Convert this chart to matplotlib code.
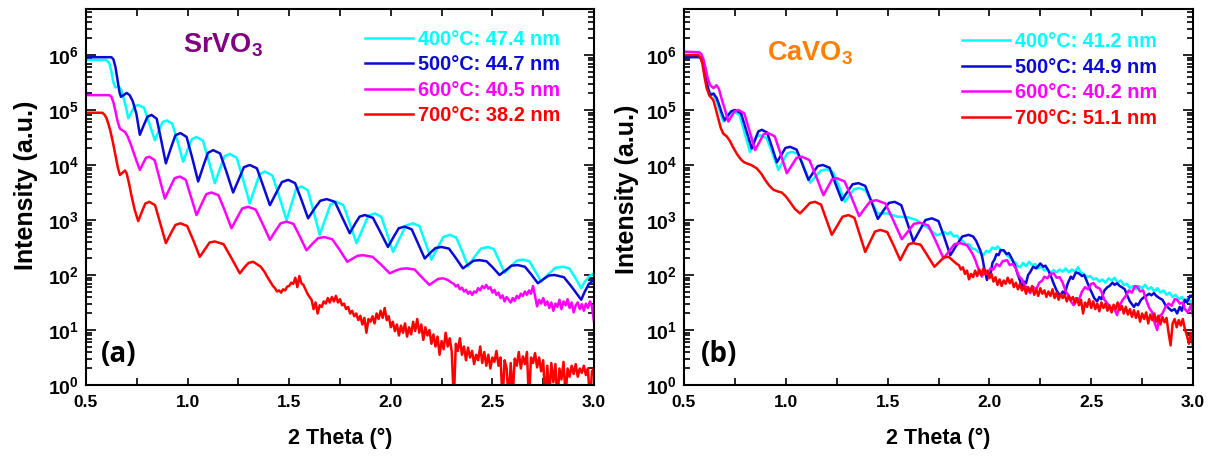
import numpy as np
import matplotlib.pyplot as plt
from matplotlib.ticker import MultipleLocator, LogLocator, FixedLocator, FixedFormatter, NullFormatter

# XRR curves: (2 theta in deg, log10 intensity)
srvo3_400 = [(0.50, 5.91), (0.60, 5.91), (0.615, 5.85), (0.625, 5.70), (0.635, 5.50), (0.645, 5.41),
             (0.659, 5.43), (0.672, 5.38), (0.685, 5.22), (0.697, 5.05), (0.708, 4.85),
             (0.725, 4.97), (0.740, 5.07), (0.757, 5.09), (0.786, 5.04), (0.810, 4.77), (0.839, 4.45),
             (0.859, 4.63), (0.877, 4.78), (0.897, 4.81), (0.925, 4.75), (0.950, 4.44), (0.978, 4.06),
             (1.001, 4.29), (1.021, 4.47), (1.044, 4.51), (1.076, 4.44), (1.103, 4.09), (1.134, 3.67),
             (1.160, 3.94), (1.182, 4.16), (1.208, 4.20), (1.242, 4.13), (1.272, 3.75), (1.306, 3.30),
             (1.332, 3.59), (1.354, 3.83), (1.380, 3.88), (1.417, 3.81), (1.450, 3.44), (1.487, 3.00),
             (1.513, 3.31), (1.534, 3.56), (1.560, 3.61), (1.592, 3.54), (1.619, 3.17), (1.650, 2.73),
             (1.679, 3.03), (1.703, 3.28), (1.732, 3.33), (1.767, 3.27), (1.796, 2.96), (1.831, 2.58),
             (1.863, 2.85), (1.890, 3.08), (1.921, 3.12), (1.953, 3.06), (1.980, 2.77), (2.011, 2.42),
             (2.045, 2.68), (2.075, 2.90), (2.109, 2.94), (2.141, 2.89), (2.168, 2.61), (2.200, 2.28),
             (2.232, 2.51), (2.259, 2.69), (2.290, 2.73), (2.322, 2.68), (2.349, 2.45), (2.380, 2.16),
             (2.414, 2.34), (2.444, 2.48), (2.478, 2.51), (2.507, 2.47), (2.531, 2.28), (2.560, 2.04),
             (2.592, 2.16), (2.619, 2.26), (2.650, 2.28), (2.682, 2.25), (2.709, 2.08), (2.740, 1.88),
             (2.777, 2.02), (2.810, 2.13), (2.847, 2.15), (2.879, 2.12), (2.906, 1.96), (2.937, 1.76),
             (2.955, 1.88), (2.975, 1.97), (3.000, 2.03)]

srvo3_500 = [(0.50, 5.96), (0.625, 5.96), (0.635, 5.92), (0.645, 5.78), (0.655, 5.55), (0.665, 5.32),
             (0.672, 5.24), (0.685, 5.27), (0.700, 5.31), (0.715, 5.27), (0.730, 5.16), (0.748, 4.93),
             (0.765, 4.55), (0.785, 4.73), (0.803, 4.88), (0.823, 4.91), (0.848, 4.84), (0.869, 4.47),
             (0.893, 4.03), (0.918, 4.31), (0.940, 4.54), (0.965, 4.58), (0.995, 4.51), (1.022, 4.14),
             (1.052, 3.70), (1.078, 3.99), (1.100, 4.22), (1.126, 4.27), (1.160, 4.21), (1.190, 3.89),
             (1.224, 3.50), (1.253, 3.75), (1.277, 3.96), (1.306, 4.00), (1.341, 3.94), (1.370, 3.64),
             (1.405, 3.27), (1.437, 3.50), (1.464, 3.69), (1.495, 3.73), (1.529, 3.67), (1.559, 3.38),
             (1.593, 3.03), (1.625, 3.21), (1.653, 3.35), (1.685, 3.38), (1.725, 3.33), (1.758, 3.07),
             (1.798, 2.76), (1.824, 2.93), (1.846, 3.06), (1.872, 3.09), (1.912, 3.04), (1.946, 2.80),
             (1.986, 2.51), (2.015, 2.70), (2.039, 2.85), (2.068, 2.88), (2.103, 2.83), (2.132, 2.59),
             (2.167, 2.30), (2.196, 2.41), (2.220, 2.49), (2.249, 2.51), (2.286, 2.48), (2.318, 2.32),
             (2.355, 2.12), (2.384, 2.20), (2.408, 2.26), (2.437, 2.27), (2.471, 2.25), (2.501, 2.14),
             (2.535, 2.00), (2.567, 2.09), (2.594, 2.17), (2.625, 2.18), (2.660, 2.15), (2.689, 2.02),
             (2.724, 1.85), (2.753, 1.93), (2.777, 1.99), (2.806, 2.00), (2.852, 1.96), (2.891, 1.78),
             (2.937, 1.55), (2.955, 1.70), (2.975, 1.84), (3.000, 1.91)]

srvo3_600 = [(0.50, 5.27), (0.615, 5.27), (0.625, 5.24), (0.635, 5.14), (0.645, 4.98), (0.655, 4.80),
             (0.667, 4.66), (0.680, 4.63), (0.692, 4.60), (0.705, 4.52), (0.720, 4.38), (0.735, 4.22),
             (0.750, 4.06), (0.765, 3.91), (0.781, 4.03), (0.795, 4.13), (0.811, 4.15), (0.838, 4.09),
             (0.861, 3.77), (0.888, 3.39), (0.914, 3.59), (0.936, 3.76), (0.962, 3.79), (0.991, 3.73),
             (1.015, 3.44), (1.044, 3.09), (1.070, 3.30), (1.092, 3.47), (1.118, 3.50), (1.152, 3.45),
             (1.182, 3.18), (1.216, 2.85), (1.245, 3.05), (1.269, 3.21), (1.298, 3.24), (1.335, 3.19),
             (1.368, 2.94), (1.405, 2.64), (1.434, 2.81), (1.458, 2.94), (1.487, 2.97), (1.521, 2.93),
             (1.551, 2.71), (1.585, 2.45), (1.615, 2.57), (1.642, 2.67), (1.672, 2.69), (1.712, 2.65),
             (1.746, 2.47), (1.786, 2.24), (1.813, 2.30), (1.837, 2.35), (1.864, 2.36), (1.910, 2.33),
             (1.949, 2.20), (1.995, 2.03), (2.024, 2.08), (2.048, 2.11), (2.077, 2.12), (2.117, 2.10),
             (2.150, 1.97), (2.190, 1.82), (2.213, 1.88), (2.234, 1.93), (2.257, 1.94), (2.280, 1.91),
             (2.300, 1.86)]
# noisy high-angle part, 0.01 deg steps from 2.31
srvo3_600_tail = [1.84, 1.79, 1.82, 1.74, 1.77, 1.70, 1.73, 1.66, 1.70, 1.64,
                  1.70, 1.68, 1.76, 1.72, 1.80, 1.76, 1.82, 1.75, 1.78, 1.68,
                  1.73, 1.64, 1.68, 1.58, 1.63, 1.52, 1.60, 1.55, 1.50, 1.58,
                  1.53, 1.62, 1.58, 1.66, 1.62, 1.70, 1.64, 1.72, 1.66, 1.80,
                  1.62, 1.43, 1.55, 1.48, 1.58, 1.45, 1.52, 1.40, 1.50, 1.35,
                  1.48, 1.42, 1.55, 1.38, 1.52, 1.45, 1.56, 1.40, 1.50, 1.32,
                  1.45, 1.50, 1.38, 1.47, 1.35, 1.48, 1.40, 1.52, 1.42, 1.15]

srvo3_700 = [(0.50, 4.95), (0.58, 4.95), (0.59, 4.92), (0.60, 4.86), (0.61, 4.75), (0.62, 4.62),
             (0.632, 4.42), (0.645, 4.18), (0.657, 3.95), (0.667, 3.82), (0.680, 3.86), (0.692, 3.90),
             (0.700, 3.85), (0.712, 3.66), (0.725, 3.42), (0.740, 3.18), (0.757, 2.98), (0.776, 3.16),
             (0.792, 3.30), (0.811, 3.33), (0.840, 3.27), (0.864, 2.96), (0.893, 2.58), (0.918, 2.76),
             (0.940, 2.91), (0.965, 2.94), (0.998, 2.89), (1.027, 2.64), (1.060, 2.33), (1.086, 2.47),
             (1.108, 2.59), (1.134, 2.61), (1.177, 2.56), (1.214, 2.32), (1.257, 2.03), (1.280, 2.14),
             (1.300, 2.22), (1.323, 2.24), (1.340, 2.20), (1.360, 2.15)]
# noisy part, 0.01 deg steps from 1.38
srvo3_700_tail = [2.05, 1.98, 1.92, 1.86, 1.80, 1.76, 1.70, 1.72, 1.68, 1.74,
                  1.72, 1.79, 1.80, 1.86, 1.84, 1.95, 1.78, 1.98, 1.85, 1.82,
                  1.74, 1.66, 1.60, 1.55, 1.38, 1.50, 1.30, 1.45, 1.42, 1.52,
                  1.48, 1.58, 1.50, 1.60, 1.52, 1.62, 1.50, 1.56, 1.45, 1.48,
                  1.38, 1.42, 1.30, 1.35, 1.25, 1.30, 1.18, 1.26, 1.10, 1.22,
                  0.95, 1.20, 1.15, 1.25, 1.12, 1.30, 1.20, 1.35, 1.22, 1.40,
                  1.18, 1.25, 1.05, 1.15, 0.98, 1.10, 0.90, 1.08, 0.95, 1.12,
                  0.88, 1.05, 0.92, 1.15, 0.98, 1.20, 0.95, 1.10, 0.82, 1.05,
                  0.90, 1.00, 0.75, 0.92, 0.70, 0.88, 0.55, 0.80, 0.65, 0.95,
                  0.70, 0.85, 0.60, -0.30, 0.75, 0.62, 0.85, 0.55, 0.70, 0.45,
                  0.68, 0.50, 0.62, 0.38, 0.55, 0.45, 0.70, 0.40, 0.60, 0.35,
                  0.55, 0.30, 0.50, 0.42, 0.62, 0.35, 0.50, -0.30, 0.45, 0.30,
                  -0.30, 0.40, -0.20, 0.48, 0.35, 0.60, 0.30, 0.52, 0.38, 0.60,
                  -0.30, 0.50, 0.40, 0.58, 0.32, 0.50, 0.25, 0.45, -0.30, 0.35,
                  -0.20, 0.40, 0.05, 0.38, -0.30, 0.30, 0.10, 0.42, -0.20, 0.30,
                  0.15, 0.35, 0.20, 0.38, 0.15, 0.30, 0.22, 0.35, 0.18, 0.30,
                  -0.30, 0.25, 0.30]

cavo3_400 = [(0.50, 5.97), (0.575, 5.97), (0.585, 5.93), (0.595, 5.82), (0.605, 5.62), (0.615, 5.44),
             (0.625, 5.33), (0.635, 5.29), (0.645, 5.27), (0.655, 5.20), (0.665, 5.10), (0.678, 4.95),
             (0.693, 4.79), (0.711, 4.88), (0.727, 4.96), (0.745, 4.97), (0.773, 4.91), (0.796, 4.61),
             (0.824, 4.24), (0.842, 4.39), (0.857, 4.52), (0.875, 4.54), (0.906, 4.49), (0.933, 4.23),
             (0.964, 3.91), (0.987, 4.08), (1.007, 4.21), (1.030, 4.24), (1.062, 4.20), (1.089, 3.96),
             (1.120, 3.68), (1.148, 3.80), (1.172, 3.90), (1.200, 3.92), (1.232, 3.87), (1.259, 3.63),
             (1.290, 3.33), (1.315, 3.46), (1.336, 3.56), (1.360, 3.58), (1.392, 3.54), (1.419, 3.35),
             (1.450, 3.12), (1.500, 3.12), (1.550, 3.06), (1.600, 3.05), (1.640, 3.00), (1.700, 2.85),
             (1.742, 2.72), (1.780, 2.78), (1.795, 2.74), (1.808, 2.78), (1.825, 2.70), (1.840, 2.72),
             (1.855, 2.64), (1.870, 2.62), (1.885, 2.55), (1.900, 2.56), (1.915, 2.48), (1.930, 2.47),
             (1.945, 2.42), (1.960, 2.40), (1.970, 2.36), (1.985, 2.44), (2.000, 2.42), (2.015, 2.50),
             (2.030, 2.47), (2.040, 2.52), (2.055, 2.46), (2.070, 2.44), (2.085, 2.36), (2.100, 2.32),
             (2.115, 2.25), (2.130, 2.22), (2.140, 2.16), (2.152, 2.14), (2.165, 2.22), (2.180, 2.16),
             (2.195, 2.24), (2.210, 2.18), (2.225, 2.20), (2.240, 2.12), (2.255, 2.15), (2.270, 2.08),
             (2.285, 2.10), (2.300, 2.04), (2.315, 2.09), (2.330, 2.05), (2.345, 2.10), (2.360, 2.06),
             (2.375, 2.12), (2.390, 2.05), (2.405, 2.10), (2.420, 2.06), (2.435, 2.14), (2.450, 2.04),
             (2.465, 2.02), (2.480, 1.96), (2.495, 1.98), (2.510, 1.92), (2.525, 1.94), (2.540, 1.88),
             (2.555, 1.92), (2.570, 1.86), (2.585, 1.94), (2.600, 1.90), (2.615, 1.95), (2.630, 1.86),
             (2.645, 1.90), (2.660, 1.82), (2.675, 1.84), (2.690, 1.76), (2.705, 1.80), (2.720, 1.74),
             (2.735, 1.80), (2.750, 1.76), (2.765, 1.82), (2.780, 1.74), (2.795, 1.78), (2.810, 1.70),
             (2.825, 1.76), (2.840, 1.68), (2.855, 1.72), (2.870, 1.64), (2.885, 1.68), (2.900, 1.60),
             (2.915, 1.64), (2.930, 1.56), (2.945, 1.60), (2.960, 1.52), (2.975, 1.58), (2.990, 1.50),
             (3.000, 1.56)]

cavo3_500 = [(0.50, 5.96), (0.575, 5.96), (0.585, 5.93), (0.595, 5.82), (0.605, 5.62), (0.615, 5.44),
             (0.628, 5.27), (0.645, 5.30), (0.660, 5.22), (0.672, 5.10), (0.685, 4.95), (0.700, 4.81),
             (0.718, 4.91), (0.733, 4.98), (0.751, 5.00), (0.780, 4.94), (0.804, 4.65), (0.833, 4.30),
             (0.850, 4.47), (0.865, 4.61), (0.882, 4.64), (0.908, 4.59), (0.930, 4.35), (0.956, 4.05),
             (0.979, 4.19), (0.998, 4.31), (1.021, 4.33), (1.053, 4.28), (1.080, 4.03), (1.111, 3.73),
             (1.136, 3.87), (1.157, 3.98), (1.182, 4.00), (1.215, 3.95), (1.242, 3.68), (1.275, 3.36),
             (1.304, 3.52), (1.328, 3.65), (1.357, 3.67), (1.390, 3.62), (1.419, 3.35), (1.452, 3.02),
             (1.481, 3.18), (1.506, 3.31), (1.535, 3.33), (1.567, 3.27), (1.595, 2.97), (1.627, 2.61),
             (1.659, 2.82), (1.686, 3.00), (1.718, 3.03), (1.750, 2.98), (1.777, 2.70), (1.808, 2.36),
             (1.840, 2.55), (1.867, 2.70), (1.898, 2.73), (1.920, 2.70), (1.935, 2.62), (1.955, 2.45),
             (1.965, 2.32), (1.975, 2.12), (1.988, 1.91), (1.995, 2.05), (2.005, 2.00), (2.015, 2.22),
             (2.025, 2.28), (2.035, 2.38), (2.045, 2.36), (2.055, 2.45), (2.070, 2.45), (2.085, 2.38),
             (2.095, 2.40), (2.110, 2.30), (2.125, 2.18), (2.140, 2.00), (2.150, 1.90), (2.160, 1.76),
             (2.170, 1.88), (2.180, 1.85), (2.190, 2.00), (2.200, 2.05), (2.215, 2.15), (2.230, 2.12),
             (2.250, 2.21), (2.265, 2.15), (2.275, 2.17), (2.290, 2.08), (2.305, 1.95), (2.315, 1.85),
             (2.330, 1.72), (2.349, 1.61), (2.360, 1.70), (2.370, 1.66), (2.385, 1.85), (2.400, 1.97),
             (2.410, 1.93), (2.425, 2.05), (2.439, 2.03), (2.455, 1.98), (2.465, 2.00), (2.475, 1.92),
             (2.490, 1.78), (2.500, 1.70), (2.515, 1.58), (2.529, 1.52), (2.540, 1.60), (2.550, 1.56),
             (2.565, 1.72), (2.580, 1.78), (2.590, 1.80), (2.605, 1.86), (2.615, 1.82), (2.627, 1.85),
             (2.640, 1.80), (2.650, 1.78), (2.665, 1.74), (2.680, 1.60), (2.690, 1.52), (2.710, 1.42),
             (2.720, 1.48), (2.730, 1.45), (2.745, 1.55), (2.760, 1.60), (2.770, 1.62), (2.785, 1.66),
             (2.795, 1.63), (2.808, 1.67), (2.820, 1.62), (2.835, 1.58), (2.850, 1.55), (2.865, 1.45),
             (2.880, 1.40), (2.895, 1.35), (2.910, 1.38), (2.922, 1.30), (2.935, 1.42), (2.945, 1.35),
             (2.960, 1.55), (2.970, 1.50), (2.985, 1.62), (3.000, 1.63)]

cavo3_600 = [(0.50, 6.06), (0.575, 6.05), (0.585, 6.02), (0.595, 5.93), (0.605, 5.78), (0.615, 5.60),
             (0.628, 5.45), (0.645, 5.40), (0.660, 5.45), (0.672, 5.38), (0.685, 5.20), (0.700, 5.02),
             (0.718, 4.79), (0.735, 4.90), (0.750, 4.98), (0.767, 5.00), (0.796, 4.94), (0.820, 4.64),
             (0.849, 4.27), (0.872, 4.43), (0.891, 4.56), (0.914, 4.58), (0.946, 4.52), (0.973, 4.22),
             (1.005, 3.85), (1.031, 4.00), (1.053, 4.13), (1.079, 4.15), (1.116, 4.09), (1.148, 3.80),
             (1.185, 3.45), (1.208, 3.61), (1.227, 3.74), (1.250, 3.76), (1.289, 3.70), (1.322, 3.42),
             (1.360, 3.07), (1.390, 3.22), (1.415, 3.34), (1.445, 3.36), (1.489, 3.30), (1.526, 3.01),
             (1.570, 2.65), (1.602, 2.80), (1.629, 2.93), (1.660, 2.95), (1.700, 2.90), (1.735, 2.63),
             (1.775, 2.30), (1.804, 2.44), (1.828, 2.56), (1.857, 2.58), (1.890, 2.54), (1.915, 2.40),
             (1.930, 2.28), (1.945, 2.12), (1.963, 1.97), (1.975, 2.06), (1.990, 2.02), (2.005, 2.12),
             (2.020, 2.10), (2.035, 2.20), (2.050, 2.16), (2.065, 2.25), (2.087, 2.27), (2.100, 2.18),
             (2.115, 2.20), (2.130, 2.12), (2.145, 1.98), (2.160, 1.92), (2.175, 1.80), (2.190, 1.74),
             (2.200, 1.67), (2.215, 1.78), (2.230, 1.74), (2.245, 1.86), (2.260, 1.90), (2.270, 1.97),
             (2.285, 1.94), (2.300, 2.02), (2.316, 2.03), (2.330, 1.95), (2.345, 1.96), (2.360, 1.86),
             (2.375, 1.70), (2.390, 1.62), (2.400, 1.52), (2.414, 1.45), (2.425, 1.58), (2.440, 1.55),
             (2.455, 1.70), (2.470, 1.78), (2.485, 1.74), (2.500, 1.84), (2.512, 1.85), (2.525, 1.78),
             (2.540, 1.76), (2.550, 1.70), (2.565, 1.55), (2.580, 1.48), (2.595, 1.38), (2.610, 1.42),
             (2.627, 1.27), (2.640, 1.45), (2.655, 1.55), (2.670, 1.62), (2.685, 1.72), (2.700, 1.68),
             (2.715, 1.80), (2.726, 1.79), (2.740, 1.70), (2.755, 1.72), (2.770, 1.55), (2.785, 1.40),
             (2.800, 1.32), (2.810, 1.15), (2.824, 1.00), (2.835, 1.25), (2.850, 1.30), (2.865, 1.42),
             (2.880, 1.48), (2.895, 1.44), (2.910, 1.56), (2.922, 1.55), (2.935, 1.48), (2.950, 1.50),
             (2.960, 1.38), (2.975, 1.32), (2.990, 1.45), (3.000, 1.25)]

cavo3_700 = [(0.50, 6.00), (0.57, 6.00), (0.58, 5.96), (0.59, 5.85), (0.60, 5.62), (0.611, 5.40),
             (0.625, 5.26), (0.644, 5.18), (0.656, 5.02), (0.668, 4.85), (0.680, 4.68), (0.693, 4.57),
             (0.710, 4.52), (0.725, 4.44), (0.740, 4.33), (0.760, 4.20), (0.780, 4.10), (0.795, 4.05),
             (0.808, 4.03), (0.830, 4.00), (0.857, 3.94), (0.880, 3.84), (0.900, 3.72), (0.920, 3.62),
             (0.939, 3.55), (0.960, 3.52), (0.980, 3.50), (1.000, 3.43), (1.020, 3.33), (1.045, 3.20),
             (1.070, 3.12), (1.096, 3.22), (1.118, 3.31), (1.144, 3.33), (1.173, 3.28), (1.197, 3.03),
             (1.226, 2.73), (1.255, 2.91), (1.279, 3.06), (1.308, 3.09), (1.337, 3.04), (1.361, 2.76),
             (1.390, 2.42), (1.416, 2.62), (1.438, 2.79), (1.464, 2.82), (1.498, 2.78), (1.528, 2.55),
             (1.562, 2.27), (1.584, 2.43), (1.603, 2.56), (1.625, 2.58), (1.662, 2.55), (1.693, 2.37),
             (1.730, 2.15), (1.755, 2.24), (1.776, 2.32), (1.800, 2.33), (1.840, 2.20)]
# noisy part, 0.01 deg steps from 1.85
cavo3_700_tail = [2.18, 2.10, 2.14, 2.02, 2.08, 1.92, 2.02, 1.96, 2.08, 1.98,
                  2.10, 2.00, 2.12, 2.02, 2.08, 1.94, 2.02, 1.88, 1.96, 1.82,
                  1.92, 1.80, 1.90, 1.84, 1.95, 1.85, 1.92, 1.78, 1.86, 1.74,
                  1.84, 1.72, 1.80, 1.66, 1.78, 1.70, 1.80, 1.64, 1.74, 1.62,
                  1.76, 1.66, 1.72, 1.60, 1.70, 1.62, 1.74, 1.58, 1.68, 1.55,
                  1.66, 1.58, 1.64, 1.52, 1.62, 1.54, 1.60, 1.48, 1.58, 1.45,
                  1.55, 1.30, 1.50, 1.42, 1.56, 1.40, 1.52, 1.38, 1.48, 1.34,
                  1.50, 1.40, 1.48, 1.35, 1.45, 1.32, 1.46, 1.38, 1.50, 1.36,
                  1.44, 1.30, 1.42, 1.28, 1.38, 1.24, 1.36, 1.22, 1.34, 1.15,
                  1.30, 1.20, 1.32, 1.12, 1.28, 1.18, 1.30, 1.15, 1.26, 1.10,
                  1.24, 1.14, 1.22, 0.95, 0.72, 1.12, 1.20, 1.05, 1.18, 1.08,
                  1.20, 1.02, 0.90, 0.75, 0.95, 0.70]

temps = ['400°C', '500°C', '600°C', '700°C']
srvo3_thickness = [47.4, 44.7, 40.5, 38.2]
cavo3_thickness = [41.2, 44.9, 40.2, 51.1]
colors = ['#00FFFF', '#0A0AD6', '#FF00FF', '#FF0000']


def to_curve(pairs, tail=None, tail_start=None):
    x = [p[0] for p in pairs]
    logi = [p[1] for p in pairs]
    if tail is not None:
        x += list(tail_start + 0.01 * np.arange(len(tail)))
        logi += tail
    return np.array(x), 10.0 ** np.array(logi)


def style_axis(ax):
    ax.set_yscale('log')
    ax.set_xlim(0.5, 3.0)
    ax.set_ylim(1, 6.86e6)
    ax.xaxis.set_major_locator(FixedLocator([0.5, 1.0, 1.5, 2.0, 2.5, 3.0]))
    ax.xaxis.set_major_formatter(FixedFormatter(['0.5', '1.0', '1.5', '2.0', '2.5', '3.0']))
    ax.xaxis.set_minor_locator(MultipleLocator(0.25))
    ax.yaxis.set_major_locator(FixedLocator([1, 10, 100, 1e3, 1e4, 1e5, 1e6]))
    ax.yaxis.set_major_formatter(FixedFormatter([r'$\mathbf{10^{%d}}$' % i for i in range(7)]))
    ax.yaxis.set_minor_locator(LogLocator(base=10, subs=np.arange(2, 10), numticks=20))
    ax.yaxis.set_minor_formatter(NullFormatter())
    ax.tick_params(which='both', direction='in', top=True, right=True, width=1.2)
    ax.tick_params(axis='x', which='both', length=5, labelsize=12.5, pad=7)
    ax.tick_params(axis='y', which='major', length=7, labelsize=14, pad=5)
    ax.tick_params(axis='y', which='minor', length=4)
    for s in ax.spines.values():
        s.set_linewidth(1.5)
    ax.set_xlabel('2 Theta (°)', fontsize=15.5, fontweight='bold')
    ax.set_ylabel('Intensity (a.u.)', fontsize=18, fontweight='bold')
    ax.xaxis.set_label_coords(0.5, -0.115)


def main():
    plt.rcParams['font.family'] = ['Liberation Sans', 'DejaVu Sans']
    plt.rcParams['font.weight'] = 'bold'
    plt.rcParams['mathtext.fontset'] = 'custom'
    plt.rcParams['mathtext.bf'] = 'Liberation Sans:bold'
    plt.rcParams['mathtext.rm'] = 'Liberation Sans:bold'

    fig = plt.figure(figsize=(12.14, 4.58), dpi=100)
    ax_a = fig.add_axes([86 / 1214, 73 / 458, 508 / 1214, 376 / 458])
    ax_b = fig.add_axes([684 / 1214, 73 / 458, 509 / 1214, 376 / 458])

    sr_curves = [to_curve(srvo3_400), to_curve(srvo3_500),
                 to_curve(srvo3_600, srvo3_600_tail, 2.31),
                 to_curve(srvo3_700, srvo3_700_tail, 1.38)]
    ca_curves = [to_curve(cavo3_400), to_curve(cavo3_500), to_curve(cavo3_600),
                 to_curve(cavo3_700, cavo3_700_tail, 1.85)]

    for (x, y), c, t, d in zip(sr_curves, colors, temps, srvo3_thickness):
        ax_a.plot(x, y, color=c, lw=1.8, label=f'{t}: {d} nm')
    for (x, y), c, t, d in zip(ca_curves, colors, temps, cavo3_thickness):
        ax_b.plot(x, y, color=c, lw=1.8, label=f'{t}: {d} nm')

    style_axis(ax_a)
    style_axis(ax_b)
    ax_a.yaxis.set_label_coords(-48 / 508, 0.53)
    ax_b.yaxis.set_label_coords(-45 / 509, 0.52)

    for ax, anchor in [(ax_a, (0.549, 0.945)), (ax_b, (0.546, 0.938))]:
        ax.legend(loc='upper left', bbox_to_anchor=anchor, frameon=False,
                  prop={'size': 14.3, 'weight': 'bold'}, labelcolor='linecolor',
                  handlelength=2.4, handletextpad=0.25, labelspacing=0.33,
                  borderpad=0, borderaxespad=0)

    ax_a.text(0.191, 0.883, r'$\mathbf{SrVO_3}$', transform=ax_a.transAxes,
              color='#800080', fontsize=19.5, ha='left', va='baseline')
    ax_b.text(0.163, 0.864, r'$\mathbf{CaVO_3}$', transform=ax_b.transAxes,
              color='#FF8000', fontsize=19.5, ha='left', va='baseline')

    ax_a.text(0.065, 0.08, '(a)', transform=ax_a.transAxes, ha='center', va='center',
              family='Open Sans', fontweight='bold', fontsize=20)
    ax_b.text(0.069, 0.08, '(b)', transform=ax_b.transAxes, ha='center', va='center',
              family='Open Sans', fontweight='bold', fontsize=20)

    fig.savefig('out.png', dpi=100, facecolor='white')


if __name__ == '__main__':
    main()
